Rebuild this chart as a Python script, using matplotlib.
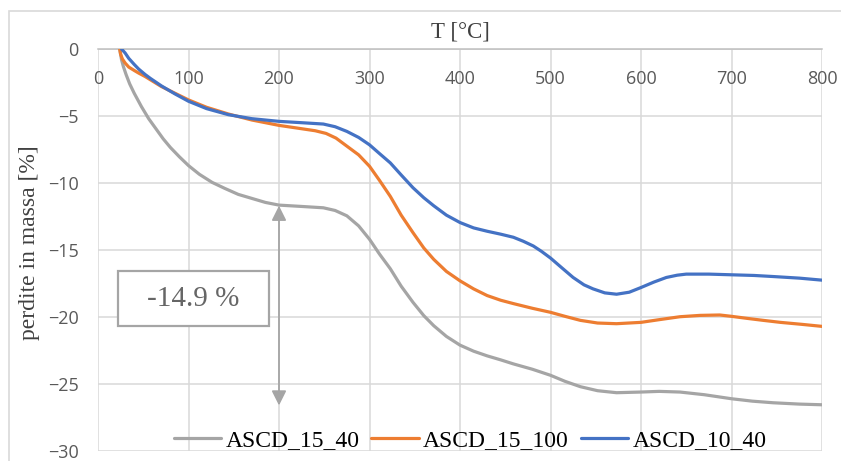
import matplotlib
matplotlib.use('Agg')
import matplotlib.pyplot as plt
from matplotlib.patches import Rectangle

# mass loss curves (TGA), temperature in degC, loss in %
t_15_40 = [24, 25, 26, 28, 31, 35, 40, 48, 56, 64, 72, 80, 90, 100, 112, 126, 140, 155,
           170, 185, 200, 225, 249, 262, 275, 288, 300, 311, 323, 335, 348, 360, 371, 385,
           400, 415, 430, 445, 459, 480, 500, 516, 533, 552, 573, 600, 620, 643, 670, 700,
           723, 746, 775, 800]
m_15_40 = [0, -0.4, -0.8, -1.3, -1.9, -2.6, -3.3, -4.3, -5.2, -5.95, -6.7, -7.35, -8.05,
           -8.7, -9.35, -9.95, -10.4, -10.85, -11.15, -11.45, -11.65, -11.75, -11.85,
           -12.05, -12.45, -13.2, -14.2, -15.3, -16.4, -17.7, -18.9, -19.9, -20.65, -21.45,
           -22.1, -22.55, -22.9, -23.2, -23.5, -23.9, -24.35, -24.8, -25.2, -25.5, -25.65,
           -25.6, -25.55, -25.6, -25.8, -26.1, -26.28, -26.4, -26.5, -26.55]

t_15_100 = [24, 25, 27, 30, 34, 40, 45, 52, 58, 70, 85, 100, 120, 144, 170, 200, 225, 240,
            252, 263, 275, 288, 300, 311, 323, 335, 348, 360, 371, 385, 400, 415, 430, 445,
            459, 480, 500, 516, 533, 552, 573, 600, 620, 643, 665, 687, 700, 717, 735, 754,
            778, 800]
m_15_100 = [0, -0.4, -0.75, -1.05, -1.35, -1.6, -1.8, -2.05, -2.3, -2.8, -3.3, -3.8,
            -4.35, -4.85, -5.3, -5.7, -5.95, -6.1, -6.3, -6.65, -7.25, -7.9, -8.75, -9.8,
            -11.0, -12.4, -13.7, -14.85, -15.7, -16.6, -17.3, -17.9, -18.4, -18.75, -19.0,
            -19.35, -19.65, -19.95, -20.25, -20.45, -20.5, -20.4, -20.2, -19.98, -19.88,
            -19.85, -19.95, -20.1, -20.25, -20.4, -20.55, -20.7]

t_10_40 = [26, 28, 30, 34, 40, 45, 52, 58, 70, 85, 100, 120, 144, 170, 200, 225, 249, 262,
           275, 288, 300, 311, 323, 335, 348, 360, 371, 385, 400, 415, 430, 445, 459, 470,
           481, 490, 500, 512, 525, 537, 547, 560, 573, 587, 600, 614, 628, 640, 650, 675,
           700, 725, 746, 775, 800]
m_10_40 = [0, -0.15, -0.3, -0.7, -1.15, -1.5, -1.9, -2.2, -2.75, -3.35, -3.9, -4.45, -4.9,
           -5.2, -5.4, -5.5, -5.6, -5.8, -6.15, -6.6, -7.15, -7.8, -8.5, -9.4, -10.35,
           -11.1, -11.7, -12.4, -12.95, -13.35, -13.6, -13.82, -14.05, -14.35, -14.7, -15.1,
           -15.6, -16.3, -17.05, -17.6, -17.9, -18.2, -18.3, -18.15, -17.8, -17.4, -17.05,
           -16.88, -16.8, -16.8, -16.85, -16.9, -16.98, -17.1, -17.25]

labels = ['ASCD_15_40', 'ASCD_15_100', 'ASCD_10_40']
colors = ['#A5A5A5', '#ED7D31', '#4472C4']

# loss marker on ASCD_15_40
arrow_t = 200
arrow_top = -11.7
loss = 14.9

serif = 'Liberation Serif'
sans = 'Open Sans'
grid_c = '#D9D9D9'

fig = plt.figure(figsize=(8.41, 4.61), dpi=100)
ax = fig.add_axes([98 / 841, 10 / 461, 724 / 841, 402 / 461])

# outer chart frame
fig.patches.append(Rectangle((8.5 / 841, -0.05), 1.1, 1.05 - 11 / 461,
                             transform=fig.transFigure, fill=False,
                             edgecolor=grid_c, lw=1.2, zorder=0))

for t, m, lab, c in zip([t_15_40, t_15_100, t_10_40], [m_15_40, m_15_100, m_10_40],
                        labels, colors):
    ax.plot(t, m, color=c, lw=2.3, label=lab, solid_joinstyle='round',
            solid_capstyle='round', zorder=3)

ax.set_xlim(0, 800)
ax.set_ylim(-30, 0)
ax.set_xticks(range(0, 801, 100))
ax.set_yticks(range(-30, 1, 5))
ax.grid(True, color=grid_c, lw=1.1, zorder=0)
ax.set_axisbelow(True)
for s in ['left', 'right', 'bottom']:
    ax.spines[s].set_visible(False)
ax.spines['top'].set_color('#BFBFBF')
ax.spines['top'].set_linewidth(1.1)

ax.xaxis.set_ticks_position('top')
ax.tick_params(axis='x', length=0, pad=-28, labelsize=13, labelcolor='#595959')
ax.tick_params(axis='y', length=0, pad=14, labelsize=13, labelcolor='#595959')
for lbl in ax.get_xticklabels() + ax.get_yticklabels():
    lbl.set_fontfamily(sans)

ax.xaxis.set_label_position('top')
ax.set_xlabel('T [°C]', fontfamily=serif, fontsize=16.5, color='#404040', labelpad=8)
ax.set_ylabel('perdite in massa [%]', fontfamily=serif, fontsize=17, color='#404040')
ax.yaxis.set_label_coords(-0.08, 0.519)

ax.annotate('', xy=(arrow_t, arrow_top), xytext=(arrow_t, arrow_top - loss),
            arrowprops=dict(arrowstyle='<|-|>', color='#A5A5A5', lw=1.3,
                            mutation_scale=22, shrinkA=0, shrinkB=0), zorder=4)

ax.add_patch(Rectangle((22.5, -20.65), 166.5, 4.05, facecolor='white',
                       edgecolor='#A5A5A5', lw=1.6, zorder=4))
ax.text(105.5, -18.62, '-%.1f %%' % loss, ha='center', va='center', fontfamily=serif,
        fontsize=21, color='#666666', zorder=5)

ax.legend(loc='center', bbox_to_anchor=(0.514, 0.027), ncol=3, frameon=False,
          prop={'family': serif, 'size': 17}, handlelength=2.0, handletextpad=0.2,
          columnspacing=0.5, borderpad=0)

fig.savefig('out.png', dpi=100)
